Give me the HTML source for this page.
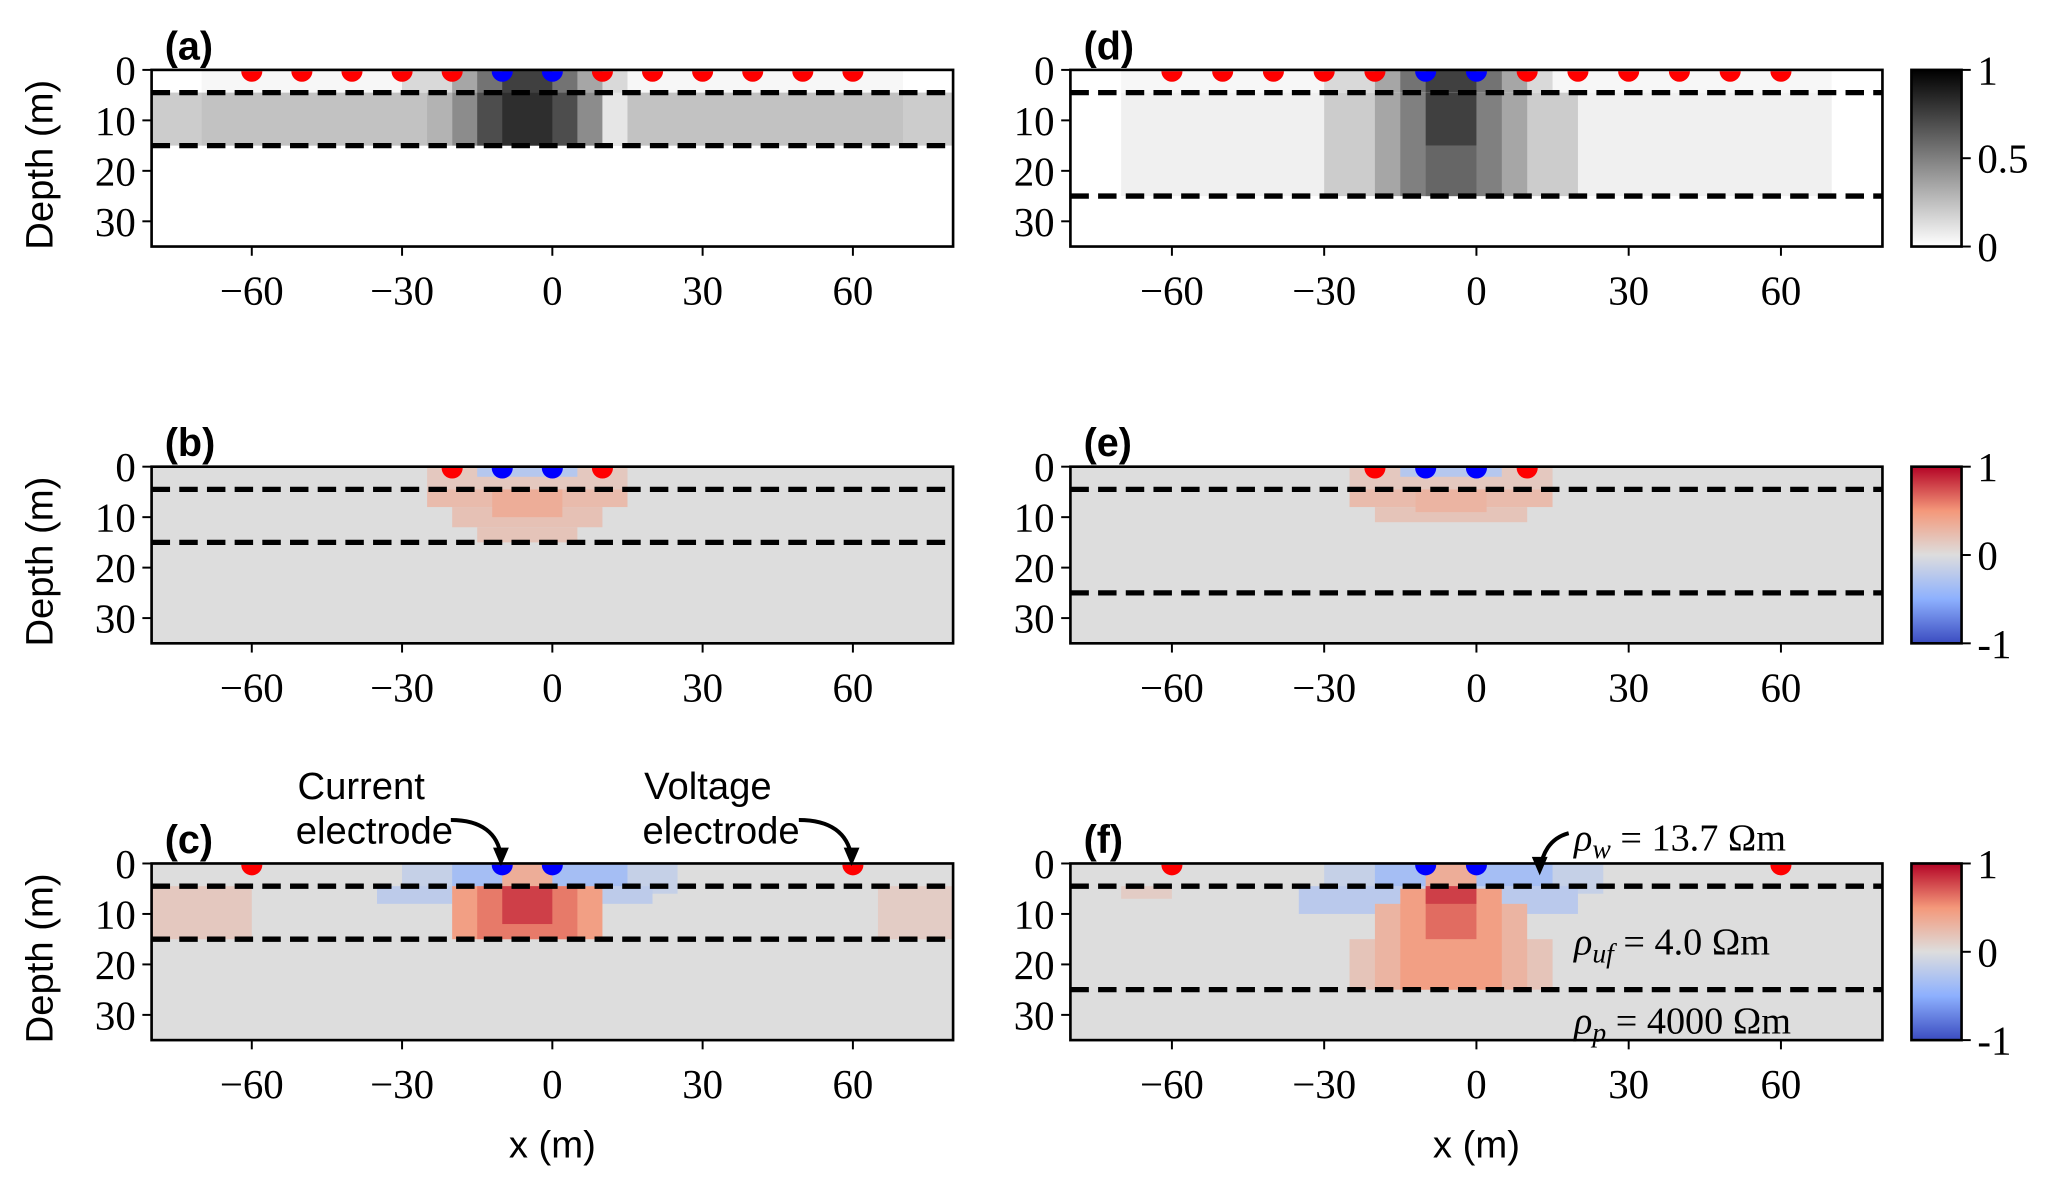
<!DOCTYPE html>
<html><head><meta charset="utf-8">
<style>
html,body{margin:0;padding:0;background:#fff;}
svg{display:block;}
.tk{font-family:"Liberation Serif",serif;font-size:31px;fill:#000;}
.lb{font-family:"Liberation Sans",sans-serif;font-size:29px;fill:#000;}
.pl{font-family:"Liberation Sans",sans-serif;font-size:30px;font-weight:bold;fill:#000;}
.an{font-family:"Liberation Serif",serif;font-size:29px;fill:#000;}
</style></head>
<body>
<svg id="fig" width="2067" height="1187" viewBox="0 0 1568 900.4" xmlns="http://www.w3.org/2000/svg">
<defs>
<linearGradient id="grayGrad" x1="0" y1="1" x2="0" y2="0">
<stop offset="0" stop-color="#fff"/><stop offset="1" stop-color="#000"/></linearGradient>
<linearGradient id="cwGrad" x1="0" y1="1" x2="0" y2="0">
<stop offset="0" stop-color="#3b4cc0"/><stop offset="0.25" stop-color="#8db0fe"/><stop offset="0.5" stop-color="#dddddd"/><stop offset="0.75" stop-color="#f4987a"/><stop offset="1" stop-color="#b40426"/></linearGradient>
</defs>
<g id="root"></g>
</svg>
<script>
// ---- data ----
const xTicks = [-60, -30, 0, 30, 60];
const yTicks = [0, 10, 20, 30];
const panelLabels = ['(a)','(b)','(c)','(d)','(e)','(f)'];
const layerDepthsLeft = [4.5, 15];
const layerDepthsRight = [4.5, 25];
const redA = [-60,-50,-40,-30,-20,10,20,30,40,50,60];
const blueAll = [-10, 0];
const redB = [-20, 10];
const redC = [-60, 60];
// patches: [x0, x1, d0, d1, value]
const patchA = [[-80,80,4.5,15,0.2],[-70,70,4.5,15,0.24],[-70,70,0,4.5,0.03],[-30,15,0,4.5,0.15],[-20,10,0,4.5,0.35],[-15,5,0,4.5,0.55],[-10,0,0,4.5,0.75],
 [-20,10,4.5,15,0.45],[-15,5,4.5,15,0.7],[-10,0,4.5,15,0.82],[10,15,4.5,15,0.1],[-25,-20,4.5,15,0.3]];
const patchD = [[-70,70,4.5,25,0.06],[-30,20,4.5,25,0.2],[-20,10,4.5,25,0.35],[-15,5,4.5,25,0.5],[-10,0,4.5,15,0.75],[-10,0,15,25,0.6],
 [-70,70,0,4.5,0.03],[-30,15,0,4.5,0.15],[-20,10,0,4.5,0.35],[-15,5,0,4.5,0.55],[-10,0,0,4.5,0.75]];
const patchB = [[-25,15,0,4.5,0.15],[-15,5,0,2,-0.25],[-25,15,4.5,8,0.25],[-20,10,8,12,0.2],[-15,5,12,15,0.18],[-12,2,4.5,10,0.35]];
const patchE = [[-25,15,0,4.5,0.15],[-15,5,0,2,-0.25],[-25,15,4.5,8,0.25],[-20,10,8,11,0.18],[-12,2,4.5,9,0.3]];
const patchC = [[-80,-60,4.5,15,0.15],[65,80,4.5,15,0.12],[-30,25,0,6,-0.15],[-20,15,0,4.5,-0.35],[-10,0,0,4.5,0.35],
 [-35,-20,4.5,8,-0.2],[5,20,4.5,8,-0.2],[-20,10,4.5,15,0.45],[-15,5,4.5,15,0.6],[-10,0,4.5,12,0.8]];
const patchF = [[-70,-60,4.5,7,0.12],[-30,25,0,6,-0.15],[-20,15,0,4.5,-0.35],[-10,0,0,4.5,0.35],
 [-35,-15,4.5,10,-0.22],[5,20,4.5,10,-0.22],[-25,15,15,25,0.18],[-20,10,8,25,0.3],[-15,5,5,25,0.45],[-10,0,4.5,15,0.65],[-10,0,4.5,8,0.8]];
const cbGrayTicks = [1, 0.5, 0];
const cbCwTicks = [1, 0, -1];

// ---- layout ----
const NS='http://www.w3.org/2000/svg';
const root=document.getElementById('root');
function mk(tag,attrs,parent){const e=document.createElementNS(NS,tag);for(const k in attrs)e.setAttribute(k,attrs[k]);(parent||root).appendChild(e);return e;}
function grayC(v){const c=Math.round(255*(1-v));return `rgb(${c},${c},${c})`;}
function cwC(v){
  const stops=[[-1,[59,76,192]],[-0.5,[141,176,254]],[0,[221,221,221]],[0.5,[244,152,122]],[1,[180,4,38]]];
  for(let i=0;i<stops.length-1;i++){const [a,ca]=stops[i],[b,cb]=stops[i+1];
    if(v<=b){const t=(v-a)/(b-a);return `rgb(${ca.map((c,j)=>Math.round(c+(cb[j]-c)*t)).join(',')})`;}}
  return 'rgb(180,4,38)';}
const panels=[
 {id:'a',x0:115,x1:723,top:53,patches:patchA,cmap:grayC,bg:0,layers:layerDepthsLeft,red:redA},
 {id:'b',x0:115,x1:723,top:354,patches:patchB,cmap:cwC,bg:0,layers:layerDepthsLeft,red:redB},
 {id:'c',x0:115,x1:723,top:655,patches:patchC,cmap:cwC,bg:0,layers:layerDepthsLeft,red:redC},
 {id:'d',x0:812,x1:1428,top:53,patches:patchD,cmap:grayC,bg:0,layers:layerDepthsRight,red:redA},
 {id:'e',x0:812,x1:1428,top:354,patches:patchE,cmap:cwC,bg:0,layers:layerDepthsRight,red:redB},
 {id:'f',x0:812,x1:1428,top:655,patches:patchF,cmap:cwC,bg:0,layers:layerDepthsRight,red:redC}];
const H=134;
panels.forEach((p,i)=>{
  const g=mk('g',{});
  
  
  const sx=x=>p.x0+(x+80)/160*(p.x1-p.x0);
  const sy=d=>p.top+d/35*H;
  const bg=mk('rect',{x:p.x0,y:p.top,width:p.x1-p.x0,height:H,fill:p.cmap(p.bg)},g);
  
  
  p.patches.forEach(q=>{
    const r=mk('rect',{x:sx(q[0]),y:sy(q[2]),width:sx(q[1])-sx(q[0]),height:sy(q[3])-sy(q[2]),fill:p.cmap(q[4])},g);
    
    
  });
  p.layers.forEach(d=>{
    const l=mk('line',{x1:p.x0,x2:p.x1,y1:sy(d),y2:sy(d),stroke:'#000','stroke-width':4,'stroke-dasharray':'14 7'},g);
    
    
  });
  const elec=(arr,col)=>arr.forEach(x=>{
    const c=mk('path',{d:`M${sx(x)-8},${p.top+1} A8,8 0 0 0 ${sx(x)+8},${p.top+1} Z`,fill:col},g);
    
    
  });
  elec(p.red,'#ff0000');elec(blueAll,'#0000ff');
  const fr=mk('rect',{x:p.x0,y:p.top,width:p.x1-p.x0,height:H,fill:'none',stroke:'#000','stroke-width':2},g);
  
  
  xTicks.forEach(t=>{
    mk('line',{x1:sx(t),x2:sx(t),y1:p.top+H,y2:p.top+H+7,stroke:'#000','stroke-width':1.5},g);
    const tx=mk('text',{x:sx(t),y:p.top+H+44,'text-anchor':'middle',class:'tk'},g);
    tx.textContent=(t<0?'\u2212':'')+Math.abs(t);
    
    
  });
  yTicks.forEach(t=>{
    mk('line',{x1:p.x0-7,x2:p.x0,y1:sy(t),y2:sy(t),stroke:'#000','stroke-width':1.5},g);
    const tx=mk('text',{x:p.x0-12,y:sy(t)+11,'text-anchor':'end',class:'tk'},g);
    tx.textContent=t;
    
    
  });
  const pl=mk('text',{x:p.x0+10,y:p.top-8,class:'pl'},g);
  pl.textContent=panelLabels[i];
  
  
  if(p.x0<300){
    const yl=mk('text',{x:0,y:0,'text-anchor':'middle',class:'lb',transform:`translate(40,${p.top+H/2+5}) rotate(-90)`},g);
    yl.textContent='Depth (m)';
    
    
  }
  if(p.id==='c'||p.id==='f'){
    const xl=mk('text',{x:sx(0),y:878,'text-anchor':'middle',class:'lb'},g);
    xl.textContent='x (m)';
    
    
  }
});
// colorbars
[[53,'grayGrad',cbGrayTicks,[1,0]],[354,'cwGrad',cbCwTicks,[1,-1]],[655,'cwGrad',cbCwTicks,[1,-1]]].forEach(cb=>{
  const [top,grad,ticks,rng]=cb;
  const g=mk('g',{});
  
  
  mk('rect',{x:1450,y:top,width:38,height:H,fill:`url(#${grad})`,stroke:'#000','stroke-width':2},g);
  ticks.forEach(t=>{
    const y=top+(rng[0]-t)/(rng[0]-rng[1])*H;
    mk('line',{x1:1488,x2:1495,y1:y,y2:y,stroke:'#000','stroke-width':1.5},g);
    const tx=mk('text',{x:1500,y:y+11,class:'tk'},g);
    tx.textContent=(t===-1?'-1':String(t));
    
    
  });
});
// annotations
function txt(x,y,s,cls,name,anchor){const t=mk('text',{x:x,y:y,class:cls,'text-anchor':anchor||'start'});t.textContent=s;
  return t;}
txt(274,606,'Current','lb','annotation-current','middle');
txt(284,640,'electrode','lb','annotation-current-2','middle');
txt(537,606,'Voltage','lb','annotation-voltage','middle');
txt(547,640,'electrode','lb','annotation-voltage-2','middle');
const arrows=[['M342,622 C365,622 378,632 380,650','arrow-current'],['M606,622 C630,622 643,632 646,650','arrow-voltage'],['M1190,632 C1175,636 1170,648 1168,660','arrow-water']];
arrows.forEach(a=>{
  const pth=mk('path',{d:a[0],fill:'none',stroke:'#000','stroke-width':3});
  
  
});
[[380,657],[646,657],[1168,664]].forEach(p=>{
  const h=mk('path',{d:`M${p[0]-6},${p[1]-14} L${p[0]},${p[1]} L${p[0]+6},${p[1]-14} Z`,fill:'#000'});
  
  
});
function rho(x,y,sub,val,name){const t=mk('text',{x:x,y:y,class:'an'});
  t.innerHTML=`<tspan font-style="italic">ρ</tspan><tspan font-style="italic" font-size="21" dy="6">${sub}</tspan><tspan dy="-6"> = ${val} Ωm</tspan>`;
  }
rho(1194,645,'w','13.7','rho-water-label');
rho(1194,724,'uf','4.0','rho-unfrozen-label');
rho(1194,784,'p','4000','rho-permafrost-label');
</script>
</body></html>
